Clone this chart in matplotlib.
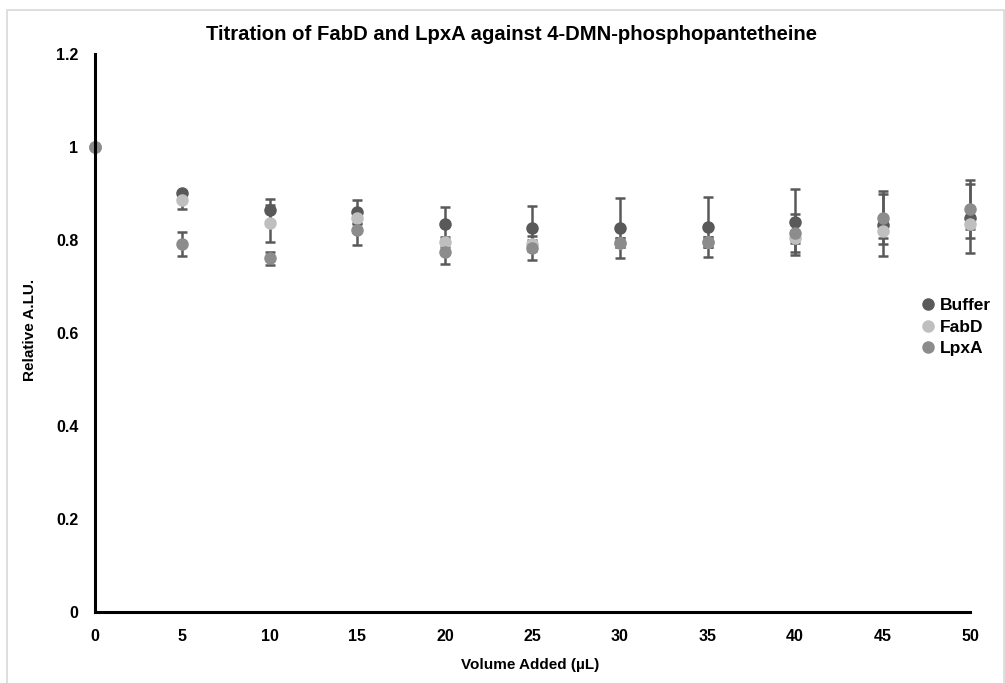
import matplotlib.pyplot as plt
from matplotlib.patches import Rectangle
from matplotlib.lines import Line2D

plt.rcParams['font.family'] = ['Liberation Sans', 'DejaVu Sans']
plt.rcParams['font.weight'] = 'bold'

# volume added (uL)
volume = [0, 5, 10, 15, 20, 25, 30, 35, 40, 45, 50]

buffer = [1.0, 0.902, 0.865, 0.860, 0.835, 0.825, 0.826, 0.828, 0.839, 0.832, 0.847]
buffer_err = [0.0, 0.004, 0.024, 0.025, 0.035, 0.049, 0.064, 0.065, 0.071, 0.066, 0.074]

fabd = [1.0, 0.886, 0.836, 0.847, 0.796, 0.791, 0.794, 0.796, 0.804, 0.819, 0.834]
fabd_err = [0.0, 0.019, 0.040, 0.010, 0.010, 0.010, 0.010, 0.010, 0.010, 0.014, 0.010]

lpxa = [1.0, 0.792, 0.761, 0.822, 0.775, 0.782, 0.794, 0.796, 0.816, 0.848, 0.867]
lpxa_err = [0.0, 0.026, 0.014, 0.033, 0.026, 0.026, 0.010, 0.010, 0.041, 0.057, 0.063]

colors = ['#595959', '#bfbfbf', '#8c8c8c']
names = ['Buffer', 'FabD', 'LpxA']

fig = plt.figure(figsize=(10.05, 6.83), dpi=100)
ax = fig.add_axes([0.0945, 0.104, 0.8707, 0.8169])

# light frame around the chart
fig.patches.append(Rectangle((7 / 1005, -0.01), 997 / 1005, 1 - 10 / 683 + 0.01,
                             transform=fig.transFigure, fill=False,
                             edgecolor='#d9d9d9', linewidth=1.2))

for y, err, c in zip([buffer, fabd, lpxa], [buffer_err, fabd_err, lpxa_err], colors):
    ax.errorbar(volume, y, yerr=err, fmt='o', color=c, ecolor='#595959',
                markersize=8, elinewidth=1.8, capsize=3.5, capthick=1.8, clip_on=False)

ax.set_xlim(0, 50)
ax.set_ylim(0, 1.2)
ax.set_xticks(volume)
ax.set_yticks([0, 0.2, 0.4, 0.6, 0.8, 1.0, 1.2])
ax.set_yticklabels(['0', '0.2', '0.4', '0.6', '0.8', '1', '1.2'])
ax.tick_params(length=0, labelsize=11.5, pad=12)
for s in ['top', 'right']:
    ax.spines[s].set_visible(False)
for s in ['left', 'bottom']:
    ax.spines[s].set_linewidth(2.2)
    ax.spines[s].set_color('black')

fig.text(512 / 1005, 1 - 35 / 683, 'Titration of FabD and LpxA against 4-DMN-phosphopantetheine',
         fontsize=14.6, fontweight='bold', ha='center', va='center')
fig.text(530 / 1005, 1 - 665 / 683, 'Volume Added (µL)', fontsize=11, fontweight='bold',
         ha='center', va='center')
fig.text(30 / 1005, 1 - 330 / 683, 'Relative A.LU.', fontsize=11, fontweight='bold',
         ha='center', va='center', rotation=90)

handles = [Line2D([], [], marker='o', linestyle='none', color=c, markersize=8) for c in colors]
fig.legend(handles, names, loc='center left', bbox_to_anchor=(918 / 1005, 1 - 327 / 683),
           frameon=False, fontsize=12.5, handletextpad=0.05, handlelength=1.2,
           labelspacing=0.35, borderpad=0, borderaxespad=0)

fig.savefig('out.png', dpi=100)
